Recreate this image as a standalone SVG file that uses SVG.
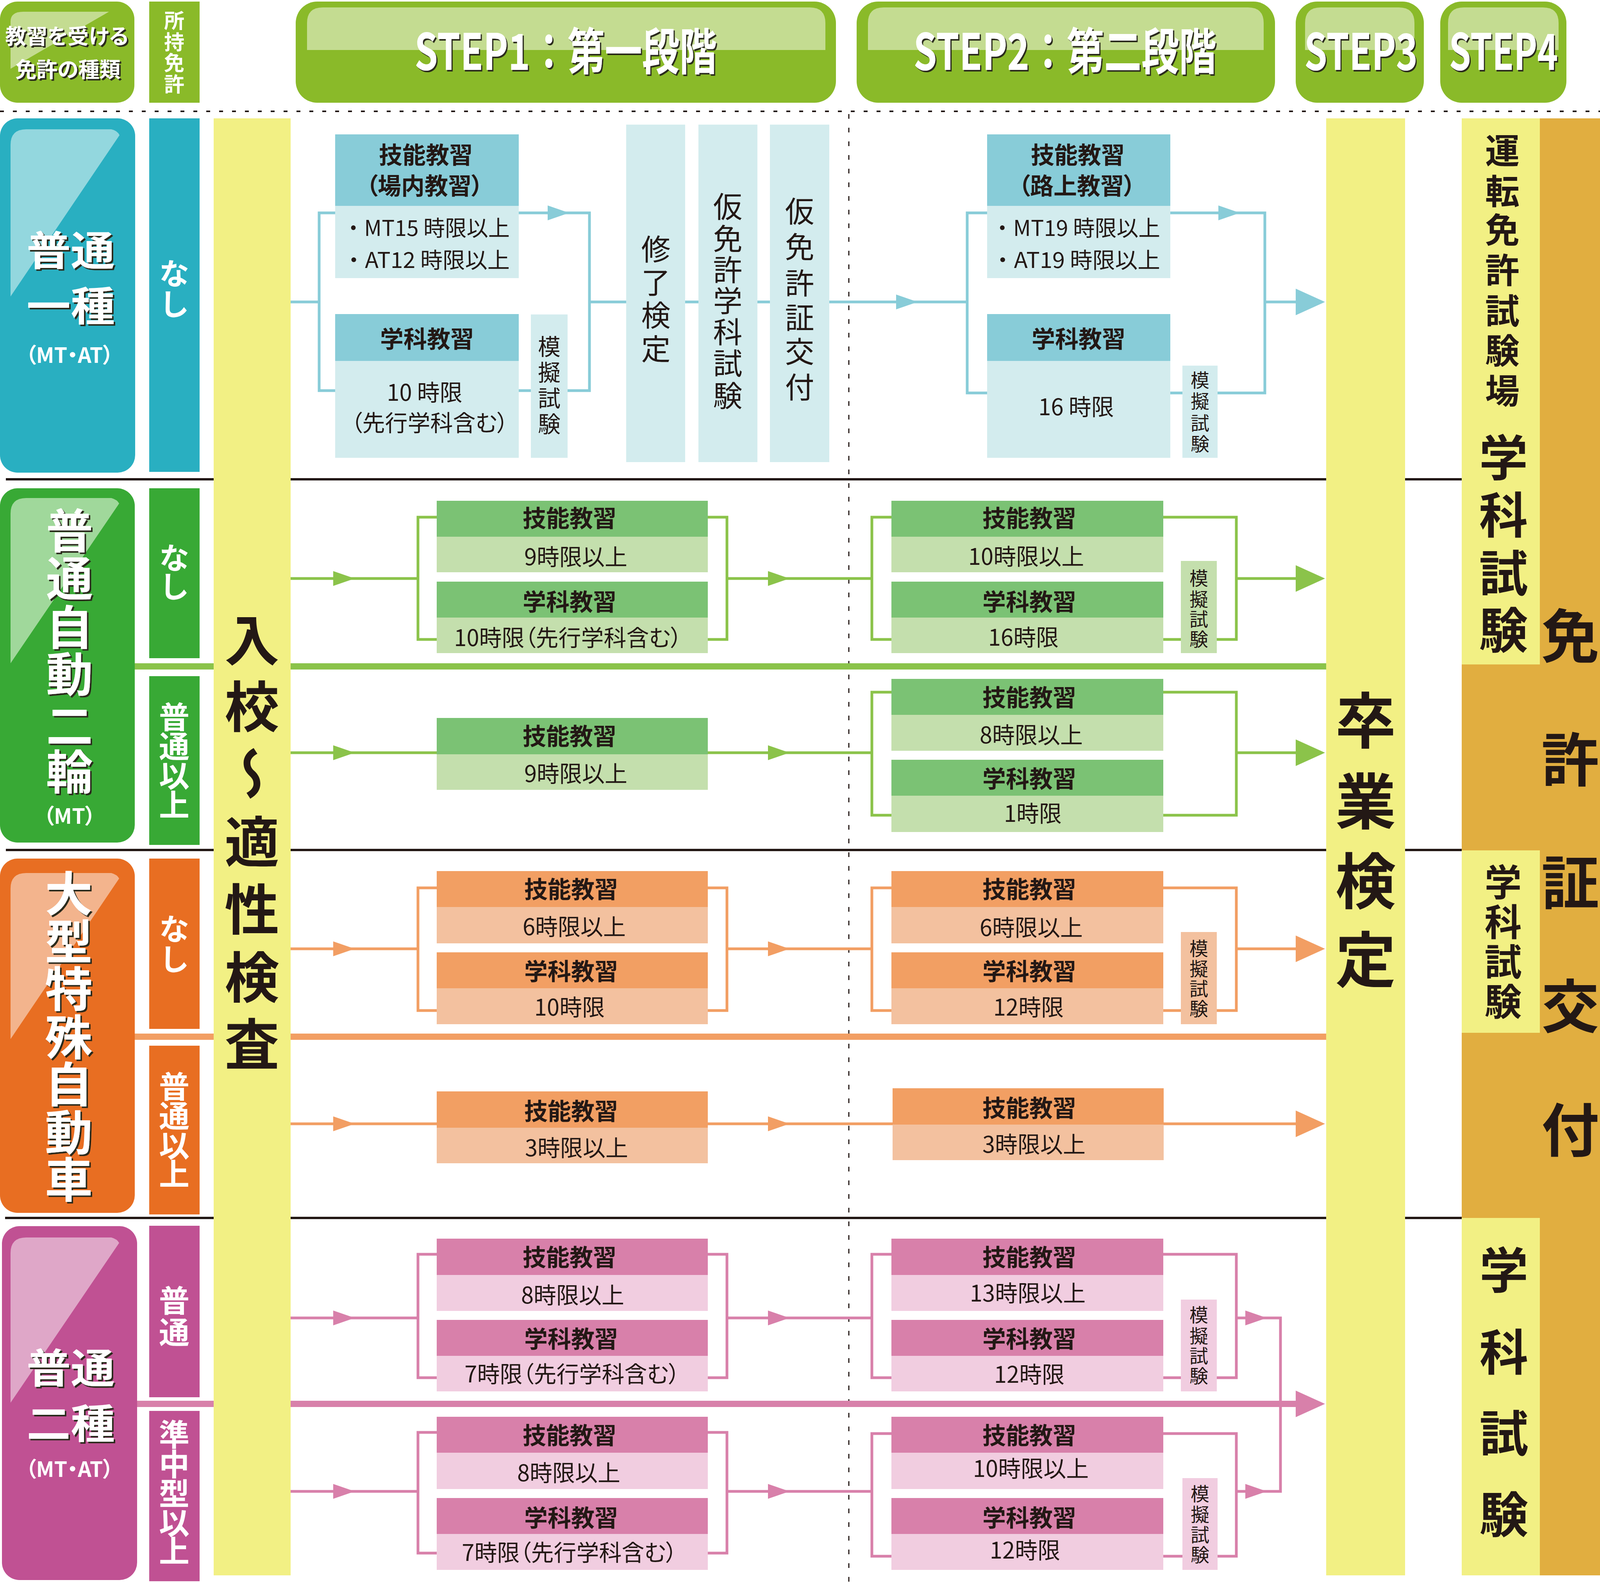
<svg xmlns="http://www.w3.org/2000/svg" width="4120" height="4050" viewBox="0 0 4120 4050">
<defs>
<style>
text{font-family:"Noto Sans CJK JP","Noto Sans CJK SC","Noto Sans",sans-serif;fill:#231815}
.b{font-weight:700}
.w{fill:#fff}
.v{writing-mode:vertical-rl}
.m{text-anchor:middle}
.p{font-feature-settings:"palt"}
.hd{font-size:60px;font-weight:700;text-anchor:middle;font-feature-settings:"palt"}
.bd{font-size:58px;text-anchor:middle;font-feature-settings:"palt"}
.bl{font-size:56px;text-anchor:middle}
.mk{font-size:48px}
.sub{font-size:78px;font-weight:700;fill:#fff}
.ln{fill:none;stroke-width:7}
.lt{stroke:#88ccd8}.lg{stroke:#8bc34a}.lo{stroke:#f29e63}.lp{stroke:#d880aa}
.at{fill:#88ccd8}.ag{fill:#8bc34a}.ao{fill:#f29e63}.ap{fill:#d880aa}
.ht{fill:#88ccd8}.bt{fill:#d3ecee}
.hg{fill:#7bc274}.bg{fill:#c4dfad}
.ho{fill:#f29f63}.bo{fill:#f3c19f}
.hp{fill:#d880aa}.bp{fill:#f1cde0}
.yl{fill:#f2f084}
.sep{stroke:#231815;stroke-width:6}
</style>
<filter id="sh" x="-10%" y="-10%" width="130%" height="130%">
<feDropShadow dx="4" dy="4" stdDeviation="0.6" flood-color="#2b2b1e" flood-opacity="1"/>
</filter>
</defs>
<rect width="4120" height="4050" fill="#fff"/>

<!-- header -->
<g id="hdr-type">
<rect x="0" y="4" width="344" height="259" rx="45" fill="#8aba29"/>
<path d="M27,176 V55 Q27,30 60,30 H279 Z" fill="#c4dc91"/>
<text class="b w m p" font-size="54" filter="url(#sh)"><tspan x="171" y="113">教習を受ける</tspan><tspan x="174" y="198">免許の種類</tspan></text>
</g>
<g id="hdr-held">
<rect x="382" y="4" width="129" height="259" fill="#8aba29"/>
<text x="446" y="26 81 134 189" class="b w v" font-size="52">所持免許</text>
</g>
<g id="hdr-step1">
<rect x="757" y="4" width="1383" height="259" rx="55" fill="#8aba29"/>
<path d="M786,128 V59 Q786,19 826,19 H2073 Q2113,19 2113,59 V128 Z" fill="#c4dc91"/>
<text transform="translate(1448 179) scale(0.8 1)" x="0" y="0" class="b w m" font-size="128" textLength="967" lengthAdjust="spacingAndGlyphs" filter="url(#sh)">STEP1：第一段階</text>
</g>
<g id="hdr-step2">
<rect x="2193" y="4" width="1071" height="259" rx="55" fill="#8aba29"/>
<path d="M2222,128 V59 Q2222,19 2262,19 H3195 Q3235,19 3235,59 V128 Z" fill="#c4dc91"/>
<text transform="translate(2726 179) scale(0.8 1)" x="0" y="0" class="b w m" font-size="128" textLength="969" lengthAdjust="spacingAndGlyphs" filter="url(#sh)">STEP2：第二段階</text>
</g>
<g id="hdr-step3">
<rect x="3317" y="4" width="328" height="259" rx="55" fill="#8aba29"/>
<path d="M3341,128 V59 Q3341,19 3381,19 H3581 Q3621,19 3621,59 V128 Z" fill="#c4dc91"/>
<text transform="translate(3484 179) scale(0.75 1)" x="0" y="0" class="b w m" font-size="128" textLength="387" lengthAdjust="spacingAndGlyphs" filter="url(#sh)">STEP3</text>
</g>
<g id="hdr-step4">
<rect x="3687" y="4" width="323" height="259" rx="55" fill="#8aba29"/>
<path d="M3707,128 V59 Q3707,19 3747,19 H3950 Q3990,19 3990,59 V128 Z" fill="#c4dc91"/>
<text transform="translate(3849 179) scale(0.75 1)" x="0" y="0" class="b w m" font-size="128" textLength="372" lengthAdjust="spacingAndGlyphs" filter="url(#sh)">STEP4</text>
</g>

<!-- connectors -->
<g id="connectors">
<line x1="0" y1="285" x2="4120" y2="285" stroke="#231815" stroke-width="4" stroke-dasharray="10 23"/>
<line x1="2173" y1="292" x2="2173" y2="4050" stroke="#231815" stroke-width="3" stroke-dasharray="12 23"/>
<line class="sep" x1="15" y1="1227" x2="3742" y2="1227"/>
<line class="sep" x1="15" y1="2176" x2="3742" y2="2176"/>
<line class="sep" x1="13" y1="3118" x2="3742" y2="3118"/>
<line x1="345" y1="1706" x2="3395" y2="1706" stroke="#8bc34a" stroke-width="16"/>
<line x1="345" y1="2654" x2="3395" y2="2654" stroke="#f29e63" stroke-width="16"/>
<line x1="351" y1="3594" x2="3320" y2="3594" stroke="#d880aa" stroke-width="16"/>
<!-- teal -->
<path class="ln lt" d="M744,773 H817"/>
<path class="ln lt" d="M858,545 H817 V1000 H1509 V545 H1328"/>
<path class="ln lt" d="M1509,773 H2476"/>
<path class="ln lt" d="M2527,545 H2476 V1006 H3238 V545 H2996"/>
<path class="ln lt" d="M3238,773 H3317"/>
<polygon class="at" points="1402,526 1457,545 1402,564"/>
<polygon class="at" points="2294,754 2349,773 2294,792"/>
<polygon class="at" points="3119,526 3174,545 3119,564"/>
<polygon class="at" points="3317,739 3392,773 3317,807"/>
<!-- green -->
<path class="ln lg" d="M744,1481 H1070"/>
<path class="ln lg" d="M1118,1324 H1070 V1637 H1861 V1324 H1812"/>
<path class="ln lg" d="M1861,1481 H2232"/>
<path class="ln lg" d="M2282,1324 H2232 V1637 H3165 V1324 H2978"/>
<path class="ln lg" d="M3165,1481 H3317"/>
<path class="ln lg" d="M744,1927 H2232"/>
<path class="ln lg" d="M2282,1772 H2232 V2087 H3165 V1772 H2978"/>
<path class="ln lg" d="M3165,1927 H3317"/>
<polygon class="ag" points="853,1462 908,1481 853,1500"/>
<polygon class="ag" points="1966,1462 2021,1481 1966,1500"/>
<polygon class="ag" points="3317,1447 3392,1481 3317,1515"/>
<polygon class="ag" points="853,1908 908,1927 853,1946"/>
<polygon class="ag" points="1966,1908 2021,1927 1966,1946"/>
<polygon class="ag" points="3317,1893 3392,1927 3317,1961"/>
<!-- orange -->
<path class="ln lo" d="M744,2429 H1070"/>
<path class="ln lo" d="M1118,2273 H1070 V2587 H1861 V2273 H1812"/>
<path class="ln lo" d="M1861,2429 H2232"/>
<path class="ln lo" d="M2282,2273 H2232 V2587 H3165 V2273 H2978"/>
<path class="ln lo" d="M3165,2429 H3317"/>
<path class="ln lo" d="M744,2877 H3317"/>
<polygon class="ao" points="853,2410 908,2429 853,2448"/>
<polygon class="ao" points="1966,2410 2021,2429 1966,2448"/>
<polygon class="ao" points="3317,2395 3392,2429 3317,2463"/>
<polygon class="ao" points="853,2858 908,2877 853,2896"/>
<polygon class="ao" points="1966,2858 2021,2877 1966,2896"/>
<polygon class="ao" points="3317,2843 3392,2877 3317,2911"/>
<!-- pink -->
<path class="ln lp" d="M744,3374 H1070"/>
<path class="ln lp" d="M1118,3211 H1070 V3527 H1861 V3211 H1812"/>
<path class="ln lp" d="M1861,3374 H2232"/>
<path class="ln lp" d="M2282,3211 H2232 V3527 H3165 V3211 H2978"/>
<path class="ln lp" d="M3165,3374 H3278 V3818 H3165"/>
<path class="ln lp" d="M744,3818 H1070"/>
<path class="ln lp" d="M1118,3667 H1070 V3976 H1861 V3667 H1812"/>
<path class="ln lp" d="M1861,3818 H2232"/>
<path class="ln lp" d="M2282,3670 H2232 V3984 H3165 V3670 H2978"/>
<polygon class="ap" points="853,3355 908,3374 853,3393"/>
<polygon class="ap" points="1966,3355 2021,3374 1966,3393"/>
<polygon class="ap" points="3188,3355 3243,3374 3188,3393"/>
<polygon class="ap" points="853,3799 908,3818 853,3837"/>
<polygon class="ap" points="1966,3799 2021,3818 1966,3837"/>
<polygon class="ap" points="3188,3799 3243,3818 3188,3837"/>
<polygon class="ap" points="3317,3560 3392,3594 3317,3628"/>
</g>

<!-- columns -->
<g id="col-entry">
<rect class="yl" x="547" y="303" width="197" height="3730"/>
<text x="645" y="1568 1738 1910 2084 2257 2431 2602" class="b v" font-size="140">入校〜適性検査</text>
</g>
<g id="col-step3">
<rect class="yl" x="3395" y="303" width="202" height="3730"/>
<text x="3496" y="1766 1973 2177 2378" class="b v" font-size="155">卒業検定</text>
</g>
<g id="col-step4">
<rect x="3742" y="303" width="378" height="3730" fill="#e1ae40"/>
<rect class="yl" x="3742" y="303" width="200" height="1398"/>
<rect class="yl" x="3742" y="2177" width="200" height="467"/>
<rect class="yl" x="3742" y="3118" width="200" height="915"/>
<text x="3846" y="341 445 544 647 751 853 956" class="b v" font-size="88">運転免許試験場</text>
<text x="3849" y="1108 1255 1404 1550" class="b v" font-size="125">学科試験</text>
<text x="3848" y="2210 2312 2414 2516" class="b v" font-size="95">学科試験</text>
<text x="3850" y="3188 3398 3606 3814" class="b v" font-size="125">学科試験</text>
<text class="b m" font-size="148"><tspan x="4020" y="1683">免</tspan><tspan x="4020" y="2000">許</tspan><tspan x="4020" y="2314">証</tspan><tspan x="4020" y="2631">交</tspan><tspan x="4020" y="2948">付</tspan></text>
</g>

<!-- row headers -->
<g id="type-futsu1">
<rect x="0" y="303" width="346" height="907" rx="45" fill="#29afc1"/>
<path d="M27,759 V371 Q27,331 67,331 H285 Q300,334 306,346 Z" fill="#93d7de"/>
<text x="181" y="680" class="b w m" font-size="104" textLength="226" lengthAdjust="spacingAndGlyphs" filter="url(#sh)">普通</text>
<text x="181" y="822" class="b w m" font-size="104" textLength="226" lengthAdjust="spacingAndGlyphs" filter="url(#sh)">一種</text>
<text x="178" y="929" class="b w m p" font-size="54">（MT・AT）</text>
</g>
<g id="type-bike">
<rect x="0" y="1250" width="345" height="907" rx="45" fill="#38a935"/>
<path d="M27,1698 V1315 Q27,1275 67,1275 H285 Q300,1279 305,1289 Z" fill="#a0d89b"/>
<text x="178" y="1298 1420 1545 1665 1797 1915" class="b w v" font-size="120" filter="url(#sh)">普通自動二輪</text>
<text x="178" y="2109" class="b w m p" font-size="54">（MT）</text>
</g>
<g id="type-special">
<rect x="0" y="2198" width="345" height="907" rx="45" fill="#e86e22"/>
<path d="M27,2660 V2275 Q27,2235 67,2235 H285 Q300,2239 305,2249 Z" fill="#f3b48d"/>
<text x="176" y="2226 2349 2470 2593 2714 2837 2958" class="b w v" font-size="122" filter="url(#sh)">大型特殊自動車</text>
</g>
<g id="type-futsu2">
<rect x="5" y="3139" width="346" height="906" rx="45" fill="#c05193"/>
<path d="M27,3591 V3208 Q27,3168 67,3168 H285 Q300,3172 305,3182 Z" fill="#dfa7c8"/>
<text x="181" y="3541" class="b w m" font-size="104" textLength="226" lengthAdjust="spacingAndGlyphs" filter="url(#sh)">普通</text>
<text x="181" y="3683" class="b w m" font-size="104" textLength="226" lengthAdjust="spacingAndGlyphs" filter="url(#sh)">二種</text>
<text x="178" y="3781" class="b w m p" font-size="54">（MT・AT）</text>
</g>

<!-- held licence -->
<g id="held-r1"><rect x="382" y="303" width="129" height="905" fill="#29afc1"/><text x="446" y="661 739" class="sub v">なし</text></g>
<g id="held-r2a"><rect x="382" y="1250" width="129" height="435" fill="#38a935"/><text x="446" y="1389 1462" class="sub v">なし</text></g>
<g id="held-r2b"><rect x="382" y="1731" width="129" height="432" fill="#38a935"/><text x="446" y="1796 1871 1946 2021" class="sub v">普通以上</text></g>
<g id="held-r3a"><rect x="382" y="2198" width="129" height="436" fill="#e86e22"/><text x="446" y="2339 2416" class="sub v">なし</text></g>
<g id="held-r3b"><rect x="382" y="2677" width="129" height="432" fill="#e86e22"/><text x="446" y="2742 2817 2893 2966" class="sub v">普通以上</text></g>
<g id="held-r4a"><rect x="382" y="3138" width="129" height="439" fill="#c05193"/><text x="446" y="3290 3371" class="sub v">普通</text></g>
<g id="held-r4b"><rect x="382" y="3612" width="129" height="436" fill="#c05193"/><text x="446" y="3633 3709 3784 3859 3931" class="sub v">準中型以上</text></g>

<!-- row 1 -->
<g id="r1-s1-skill">
<rect class="ht" x="858" y="344" width="470" height="183"/><rect class="bt" x="858" y="527" width="470" height="185"/>
<text x="1090" y="419" class="hd" font-size="57">技能教習</text>
<text x="1087" y="498" class="hd" font-size="57">（場内教習）</text>
<text x="1091" y="604" class="bl" textLength="428" lengthAdjust="spacingAndGlyphs">・MT15 時限以上</text>
<text x="1091" y="686" class="bl" textLength="428" lengthAdjust="spacingAndGlyphs">・AT12 時限以上</text>
</g>
<g id="r1-s1-acad">
<rect class="ht" x="858" y="804" width="470" height="120"/><rect class="bt" x="858" y="924" width="470" height="248"/>
<text x="1093" y="890" class="hd">学科教習</text>
<text x="1087" y="1026" class="bd">10 時限</text>
<text x="1100" y="1104" class="bd">（先行学科含む）</text>
</g>
<g id="r1-s1-mock"><rect class="bt" x="1359" y="805" width="94" height="367"/><text x="1406" y="858 924 990 1056" class="v" font-size="58">模擬試験</text></g>
<g id="r1-kentei"><rect class="bt" x="1603" y="319" width="151" height="864"/><text x="1679" y="600 685 769 855" class="v" font-size="75">修了検定</text></g>
<g id="r1-karigakka"><rect class="bt" x="1788" y="319" width="151" height="864"/><text x="1863" y="491 573 653 732 812 892 975" class="v" font-size="75">仮免許学科試験</text></g>
<g id="r1-karikoufu"><rect class="bt" x="1971" y="319" width="152" height="864"/><text x="2047" y="503 594 687 775 862 953" class="v" font-size="75">仮免許証交付</text></g>
<g id="r1-s2-skill">
<rect class="ht" x="2527" y="344" width="469" height="183"/><rect class="bt" x="2527" y="527" width="469" height="185"/>
<text x="2759" y="419" class="hd" font-size="57">技能教習</text>
<text x="2757" y="498" class="hd" font-size="57">（路上教習）</text>
<text x="2754" y="604" class="bl" textLength="432" lengthAdjust="spacingAndGlyphs">・MT19 時限以上</text>
<text x="2754" y="686" class="bl" textLength="432" lengthAdjust="spacingAndGlyphs">・AT19 時限以上</text>
</g>
<g id="r1-s2-acad">
<rect class="ht" x="2527" y="804" width="469" height="120"/><rect class="bt" x="2527" y="924" width="469" height="248"/>
<text x="2761" y="890" class="hd">学科教習</text>
<text x="2755" y="1063" class="bd" font-size="62">16 時限</text>
</g>
<g id="r1-s2-mock"><rect class="bt" x="3027" y="936" width="90" height="236"/><text x="3072" y="949 1003 1059 1112" class="v mk">模擬試験</text></g>

<!-- row 2a -->
<g id="r2a-s1-skill"><rect class="hg" x="1118" y="1282" width="694" height="92"/><rect class="bg" x="1118" y="1374" width="694" height="91"/>
<text x="1458" y="1349" class="hd">技能教習</text><text x="1474" y="1447" class="bd">9時限以上</text></g>
<g id="r2a-s1-acad"><rect class="hg" x="1118" y="1489" width="694" height="92"/><rect class="bg" x="1118" y="1581" width="694" height="91"/>
<text x="1458" y="1563" class="hd">学科教習</text><text x="1454" y="1654" class="bd">10時限（先行学科含む）</text></g>
<g id="r2a-s2-skill"><rect class="hg" x="2282" y="1282" width="696" height="92"/><rect class="bg" x="2282" y="1374" width="696" height="91"/>
<text x="2635" y="1349" class="hd">技能教習</text><text x="2627" y="1446" class="bd">10時限以上</text></g>
<g id="r2a-s2-acad"><rect class="hg" x="2282" y="1489" width="696" height="92"/><rect class="bg" x="2282" y="1581" width="696" height="91"/>
<text x="2635" y="1563" class="hd">学科教習</text><text x="2620" y="1653" class="bd">16時限</text></g>
<g id="r2a-s2-mock"><rect class="bg" x="3023" y="1436" width="92" height="236"/><text x="3069" y="1456 1510 1561 1612" class="v mk">模擬試験</text></g>
<!-- row 2b -->
<g id="r2b-s1-skill"><rect class="hg" x="1118" y="1838" width="694" height="93"/><rect class="bg" x="1118" y="1931" width="694" height="91"/>
<text x="1458" y="1907" class="hd">技能教習</text><text x="1474" y="2002" class="bd">9時限以上</text></g>
<g id="r2b-s2-skill"><rect class="hg" x="2282" y="1738" width="696" height="92"/><rect class="bg" x="2282" y="1830" width="696" height="92"/>
<text x="2635" y="1808" class="hd">技能教習</text><text x="2640" y="1903" class="bd">8時限以上</text></g>
<g id="r2b-s2-acad"><rect class="hg" x="2282" y="1945" width="696" height="92"/><rect class="bg" x="2282" y="2037" width="696" height="93"/>
<text x="2635" y="2016" class="hd">学科教習</text><text x="2644" y="2104" class="bd">1時限</text></g>

<!-- row 3a -->
<g id="r3a-s1-skill"><rect class="ho" x="1118" y="2230" width="694" height="92"/><rect class="bo" x="1118" y="2322" width="694" height="93"/>
<text x="1462" y="2299" class="hd">技能教習</text><text x="1470" y="2394" class="bd">6時限以上</text></g>
<g id="r3a-s1-acad"><rect class="ho" x="1118" y="2438" width="694" height="92"/><rect class="bo" x="1118" y="2530" width="694" height="92"/>
<text x="1462" y="2509" class="hd">学科教習</text><text x="1458" y="2600" class="bd">10時限</text></g>
<g id="r3a-s2-skill"><rect class="ho" x="2282" y="2230" width="696" height="92"/><rect class="bo" x="2282" y="2322" width="696" height="93"/>
<text x="2635" y="2299" class="hd">技能教習</text><text x="2640" y="2396" class="bd">6時限以上</text></g>
<g id="r3a-s2-acad"><rect class="ho" x="2282" y="2438" width="696" height="92"/><rect class="bo" x="2282" y="2530" width="696" height="92"/>
<text x="2635" y="2509" class="hd">学科教習</text><text x="2633" y="2600" class="bd">12時限</text></g>
<g id="r3a-s2-mock"><rect class="bo" x="3023" y="2386" width="92" height="236"/><text x="3069" y="2404 2456 2507 2558" class="v mk">模擬試験</text></g>
<!-- row 3b -->
<g id="r3b-s1-skill"><rect class="ho" x="1118" y="2794" width="694" height="93"/><rect class="bo" x="1118" y="2887" width="694" height="91"/>
<text x="1462" y="2867" class="hd">技能教習</text><text x="1476" y="2960" class="bd">3時限以上</text></g>
<g id="r3b-s2-skill"><rect class="ho" x="2285" y="2786" width="694" height="93"/><rect class="bo" x="2285" y="2879" width="694" height="91"/>
<text x="2635" y="2859" class="hd">技能教習</text><text x="2647" y="2951" class="bd">3時限以上</text></g>

<!-- row 4a -->
<g id="r4a-s1-skill"><rect class="hp" x="1118" y="3171" width="694" height="93"/><rect class="bp" x="1118" y="3264" width="694" height="92"/>
<text x="1458" y="3241" class="hd">技能教習</text><text x="1466" y="3337" class="bd">8時限以上</text></g>
<g id="r4a-s1-acad"><rect class="hp" x="1118" y="3379" width="694" height="92"/><rect class="bp" x="1118" y="3471" width="694" height="91"/>
<text x="1462" y="3450" class="hd">学科教習</text><text x="1465" y="3539" class="bd">7時限（先行学科含む）</text></g>
<g id="r4a-s2-skill"><rect class="hp" x="2282" y="3171" width="696" height="93"/><rect class="bp" x="2282" y="3264" width="696" height="92"/>
<text x="2635" y="3241" class="hd">技能教習</text><text x="2631" y="3332" class="bd">13時限以上</text></g>
<g id="r4a-s2-acad"><rect class="hp" x="2282" y="3379" width="696" height="92"/><rect class="bp" x="2282" y="3471" width="696" height="91"/>
<text x="2635" y="3450" class="hd">学科教習</text><text x="2635" y="3540" class="bd">12時限</text></g>
<g id="r4a-s2-mock"><rect class="bp" x="3023" y="3327" width="92" height="235"/><text x="3069" y="3342 3396 3447 3498" class="v mk">模擬試験</text></g>
<!-- row 4b -->
<g id="r4b-s1-skill"><rect class="hp" x="1118" y="3627" width="694" height="92"/><rect class="bp" x="1118" y="3719" width="694" height="93"/>
<text x="1458" y="3697" class="hd">技能教習</text><text x="1456" y="3792" class="bd">8時限以上</text></g>
<g id="r4b-s1-acad"><rect class="hp" x="1118" y="3835" width="694" height="92"/><rect class="bp" x="1118" y="3927" width="694" height="92"/>
<text x="1462" y="3908" class="hd">学科教習</text><text x="1458" y="3996" class="bd">7時限（先行学科含む）</text></g>
<g id="r4b-s2-skill"><rect class="hp" x="2282" y="3627" width="696" height="92"/><rect class="bp" x="2282" y="3719" width="696" height="93"/>
<text x="2635" y="3697" class="hd">技能教習</text><text x="2639" y="3781" class="bd">10時限以上</text></g>
<g id="r4b-s2-acad"><rect class="hp" x="2282" y="3835" width="696" height="92"/><rect class="bp" x="2282" y="3927" width="696" height="92"/>
<text x="2635" y="3908" class="hd">学科教習</text><text x="2624" y="3990" class="bd">12時限</text></g>
<g id="r4b-s2-mock"><rect class="bp" x="3027" y="3784" width="90" height="235"/><text x="3072" y="3800 3853 3905 3956" class="v mk">模擬試験</text></g>
</svg>
